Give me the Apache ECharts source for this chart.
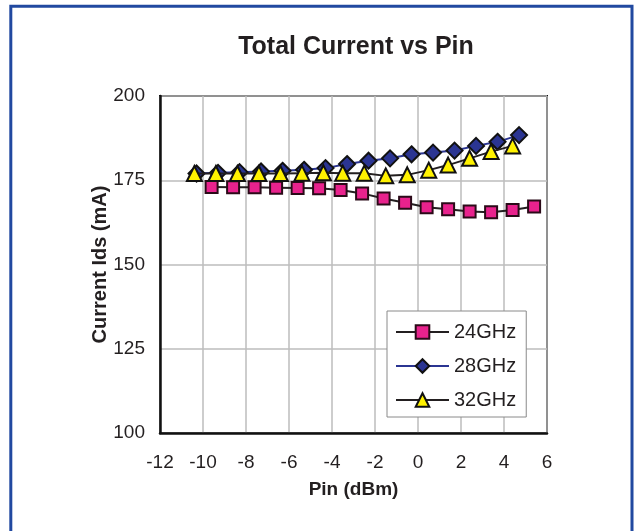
<!DOCTYPE html>
<html>
<head>
<meta charset="utf-8">
<script src="https://cdn.jsdelivr.net/npm/echarts@6/dist/echarts.min.js"></script>
<style>
  html, body { margin: 0; padding: 0; background: #fff; }
  #chart { width: 636px; height: 531px; }
</style>
</head>
<body>
<div id="chart"></div>
<script>
// Pin (dBm) and total current (mA) per frequency
let pin24 = [-9.6, -8.6, -7.6, -6.6, -5.6, -4.6, -3.6, -2.6, -1.6, -0.6, 0.4, 1.4, 2.4, 3.4, 4.4, 5.4];
let cur24 = [173.0, 172.9, 172.9, 172.8, 172.7, 172.6, 172.1, 171.1, 169.6, 168.3, 167.0, 166.4, 165.7, 165.5, 166.2, 167.2];

let pin28 = [-10.3, -9.3, -8.3, -7.3, -6.3, -5.3, -4.3, -3.3, -2.3, -1.3, -0.3, 0.7, 1.7, 2.7, 3.7, 4.7];
let cur28 = [177.0, 177.2, 177.4, 177.6, 177.8, 178.1, 178.6, 179.8, 180.8, 181.5, 182.7, 183.2, 183.8, 185.2, 186.4, 188.4];

let pin32 = [-10.4, -9.4, -8.4, -7.4, -6.4, -5.4, -4.4, -3.5, -2.5, -1.5, -0.5, 0.5, 1.4, 2.4, 3.4, 4.4];
let cur32 = [177.0, 177.0, 177.0, 177.0, 177.0, 177.1, 177.2, 177.1, 177.1, 176.3, 176.6, 178.0, 179.5, 181.5, 183.5, 185.2];

let seriesNames = ['24GHz', '28GHz', '32GHz'];

function pairs(xs, ys) {
    return xs.map(function (x, i) { return [x, ys[i]]; });
}

let font = 'Liberation Sans, Arial, sans-serif';

let option = {
    animation: false,
    backgroundColor: '#fff',
    textStyle: { fontFamily: font },
    graphic: [
        {
            type: 'rect',
            shape: { x: 10.8, y: 6.2, width: 621.2, height: 580 },
            style: { fill: null, stroke: '#2149a0', lineWidth: 3 },
            silent: true
        }
    ],
    title: {
        text: 'Total Current vs Pin',
        left: 351,
        top: 30,
        textAlign: 'center',
        textStyle: { fontFamily: font, fontSize: 25, fontWeight: 'bold', color: '#231f20' }
    },
    legend: {
        orient: 'vertical',
        left: 387,
        top: 311,
        data: seriesNames,
        itemWidth: 53,
        itemHeight: 17,
        itemGap: 14,
        padding: [11, 10, 7, 8],
        backgroundColor: '#fff',
        borderColor: '#8a8a8a',
        borderWidth: 1,
        borderRadius: 0,
        textStyle: { fontFamily: font, fontSize: 20, color: '#231f20' }
    },
    grid: {
        left: 160,
        right: 89,
        top: 96,
        bottom: 98,
        show: true,
        borderColor: '#111',
        borderWidth: 2,
        backgroundColor: '#fff'
    },
    xAxis: {
        type: 'value',
        min: -12,
        max: 6,
        interval: 2,
        name: 'Pin (dBm)',
        nameLocation: 'middle',
        nameGap: 47,
        nameMoveOverlap: false,
        nameTextStyle: { fontFamily: font, fontSize: 19, fontWeight: 'bold', color: '#231f20' },
        axisLine: { onZero: false, lineStyle: { color: '#111', width: 2.5 } },
        axisTick: { show: false },
        axisLabel: { fontFamily: font, fontSize: 19, color: '#231f20', margin: 20 },
        splitLine: { show: true, lineStyle: { color: '#bdbdbd', width: 1.5 } }
    },
    yAxis: {
        type: 'value',
        min: 100,
        max: 200,
        interval: 25,
        name: 'Current Ids (mA)',
        nameLocation: 'middle',
        nameGap: 50,
        nameMoveOverlap: false,
        nameTextStyle: { fontFamily: font, fontSize: 20, fontWeight: 'bold', color: '#231f20' },
        axisLine: { show: true, onZero: false, lineStyle: { color: '#111', width: 2.5 } },
        axisTick: { show: false },
        axisLabel: { fontFamily: font, fontSize: 19, color: '#231f20', margin: 15 },
        splitLine: { show: true, lineStyle: { color: '#bdbdbd', width: 1.5 } }
    },
    series: [
        {
            name: seriesNames[0],
            type: 'line',
            data: pairs(pin24, cur24),
            symbol: 'rect',
            symbolSize: 12,
            lineStyle: { color: '#231f20', width: 2 },
            itemStyle: { color: '#e8228d', borderColor: '#2a0a18', borderWidth: 2 },
            z: 2
        },
        {
            name: seriesNames[1],
            type: 'line',
            data: pairs(pin28, cur28),
            symbol: 'diamond',
            symbolSize: 16,
            lineStyle: { color: '#2b3592', width: 2 },
            itemStyle: { color: '#2b3592', borderColor: '#111', borderWidth: 2 },
            z: 3
        },
        {
            name: seriesNames[2],
            type: 'line',
            data: pairs(pin32, cur32),
            symbol: 'triangle',
            symbolSize: 15,
            lineStyle: { color: '#231f20', width: 2 },
            itemStyle: { color: '#fff200', borderColor: '#111', borderWidth: 2 },
            z: 4
        }
    ]
};

let chart = echarts.init(document.getElementById('chart'));
chart.setOption(option);
</script>
</body>
</html>
